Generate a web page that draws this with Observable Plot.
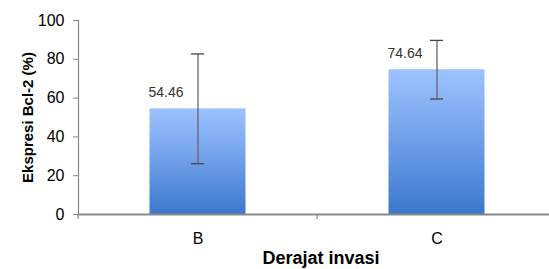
<!DOCTYPE html>
<html>
<head>
<meta charset="utf-8">
<script src="https://cdn.jsdelivr.net/npm/d3@7"></script>
<script src="https://cdn.jsdelivr.net/npm/@observablehq/plot@0.6"></script>
<style>
  html, body { margin: 0; padding: 0; background: #fff; }
  svg { font-family: "Liberation Sans", Arial, sans-serif; }
  g[aria-label="y-axis label"] text { font-weight: bold; font-size: 15px; fill: #000; }
  g[aria-label="x-axis label"] text { font-weight: bold; font-size: 18px; fill: #000; }
</style>
</head>
<body>
<div id="chart"></div>
<script>
const categories = ["B", "C"];
const values = [54.46, 74.64];
const errors = [28.3, 15.1];
const yTicks = [0, 20, 40, 60, 80, 100];
const valueLabels = ["54.46", "74.64"];
const xTitle = "Derajat invasi";
const yTitle = "Ekspresi Bcl-2 (%)";

const data = categories.map((c, i) => ({
  cat: c, value: values[i], lo: values[i] - errors[i], hi: values[i] + errors[i], label: valueLabels[i]
}));

// ticks at band boundaries on the x axis
function boundaryTicks(index, scales, values, dimensions) {
  const g = d3.create("svg:g");
  const x = scales.x, y = scales.y;
  const bw = x.bandwidth ? x.bandwidth() : 0;
  const y0 = y(0);
  const positions = categories.map(c => x(c)).concat([x(categories[categories.length - 1]) + bw]);
  for (const px of positions) {
    g.append("line").attr("x1", px).attr("x2", px).attr("y1", y0).attr("y2", y0 + 5)
      .attr("stroke", "#888").attr("stroke-width", 1.2);
  }
  return g.node();
}

const plot = Plot.plot({
  width: 549,
  height: 269,
  marginLeft: 78,
  marginRight: 0,
  marginTop: 20,
  marginBottom: 55,
  style: { fontFamily: "Liberation Sans, Arial, sans-serif", background: "#fff" },
  x: { type: "band", domain: categories, range: [78, 556], padding: 0 },
  y: { domain: [0, 100] },
  marks: [
    Plot.barY(data, { x: "cat", y: "value", fill: "url(#barGrad)", insetLeft: 71.5, insetRight: 71.5 }),
    Plot.frame({ anchor: "left", stroke: "#888", strokeWidth: 1.2 }),
    Plot.ruleY([0], { stroke: "#888", strokeWidth: 2 }),
    boundaryTicks,
    Plot.ruleX(data, { x: "cat", y1: "lo", y2: "hi", stroke: "#666", strokeWidth: 1.3 }),
    Plot.tickY(data, { x: "cat", y: "lo", stroke: "#444", strokeWidth: 1.3, insetLeft: 113, insetRight: 113 }),
    Plot.tickY(data, { x: "cat", y: "hi", stroke: "#444", strokeWidth: 1.3, insetLeft: 113, insetRight: 113 }),
    Plot.text(data, { x: "cat", y: "value", text: "label", dx: -32, dy: -16, fontSize: 14, fill: "#333" }),
    Plot.axisY({ ticks: yTicks, tickSize: 5, tickPadding: 9, fontSize: 16, stroke: "#888", color: "#000",
      label: yTitle, labelAnchor: "center", labelOffset: 56, labelArrow: "none" }),
    Plot.axisX({ tickSize: 0, tickPadding: 18, fontSize: 16, color: "#000", label: null }),
    Plot.axisX({ ticks: [], tickSize: 0, color: "#000",
      label: xTitle, labelAnchor: "center", labelOffset: 49, labelArrow: "none" })
  ]
});

const svg = d3.select(plot);
svg.selectAll('g[aria-label="x-axis label"]').each(function () {
  const t = this.getAttribute("transform") || "";
  this.setAttribute("transform", t + " translate(7,0)");
});
const defs = svg.insert("defs", ":first-child");
const grad = defs.append("linearGradient").attr("id", "barGrad")
  .attr("x1", 0).attr("y1", 0).attr("x2", 0).attr("y2", 1);
grad.append("stop").attr("offset", "0%").attr("stop-color", "#9ec2ff");
grad.append("stop").attr("offset", "50%").attr("stop-color", "#6f9ee9");
grad.append("stop").attr("offset", "100%").attr("stop-color", "#3a79cc");

document.getElementById("chart").appendChild(plot);
</script>
</body>
</html>
